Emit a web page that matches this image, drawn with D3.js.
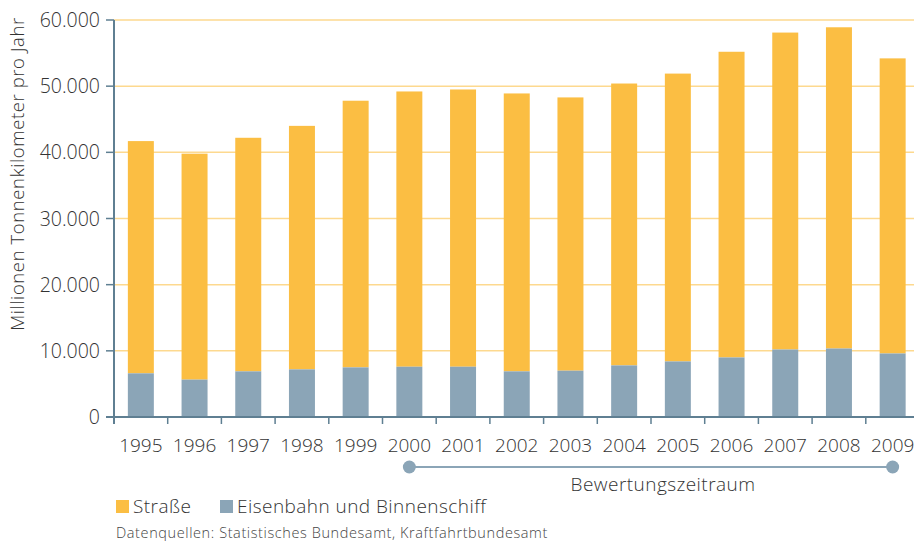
<!DOCTYPE html>
<html>
<head>
<meta charset="utf-8">
<script src="https://cdn.jsdelivr.net/npm/d3@7"></script>
<style>
  body { margin: 0; background: #fff; }
  svg { display: block; font-family: "Open Sans", "Liberation Sans", sans-serif; font-weight: 300; }
</style>
</head>
<body>
<div id="chart"></div>
<script>
// data (Mio. tkm)
const years = ["1995","1996","1997","1998","1999","2000","2001","2002","2003","2004","2005","2006","2007","2008","2009"];
const bahnSchiff = [6600, 5650, 6900, 7200, 7500, 7600, 7600, 6900, 7000, 7800, 8400, 9000, 10200, 10350, 9600];
const strasse = [35100, 34150, 35300, 36800, 40300, 41600, 41900, 42000, 41300, 42600, 43500, 46200, 47900, 48550, 44600];
const yTicks = [0, 10000, 20000, 30000, 40000, 50000, 60000];
const zeitraum = ["2000", "2009"];

const width = 914, height = 542;
const plotLeft = 114, plotTop = 20, plotBottom = 417;
const step = 53.7;

const colStrasse = "#fbbe43";
const colBahn = "#8ba5b7";
const colAxis = "#5f7f92";

const de = d3.formatLocale({ decimal: ",", thousands: ".", grouping: [3], currency: ["", " €"] });
const fmt = de.format(",");

const svg = d3.select("#chart").append("svg")
  .attr("width", width)
  .attr("height", height);

const x = d3.scaleBand()
  .domain(years)
  .range([plotLeft, plotLeft + step * years.length])
  .paddingInner(0.516)
  .paddingOuter(0.258);

const y = d3.scaleLinear().domain([0, 60000]).range([plotBottom, plotTop]);

// gridlines
svg.append("g")
  .selectAll("line")
  .data(yTicks.filter(d => d > 0))
  .enter().append("line")
  .attr("x1", plotLeft).attr("x2", width)
  .attr("y1", d => y(d)).attr("y2", d => y(d))
  .attr("stroke", "#fdd98f")
  .attr("stroke-width", 1.5);

// stacked bars
const stack = years.map((yr, i) => ({ year: yr, bahn: bahnSchiff[i], strasse: strasse[i] }));

svg.append("g").selectAll("rect")
  .data(stack)
  .enter().append("rect")
  .attr("x", d => x(d.year))
  .attr("width", x.bandwidth())
  .attr("y", d => y(d.bahn + d.strasse))
  .attr("height", d => y(d.bahn) - y(d.bahn + d.strasse))
  .attr("fill", colStrasse);

svg.append("g").selectAll("rect")
  .data(stack)
  .enter().append("rect")
  .attr("x", d => x(d.year))
  .attr("width", x.bandwidth())
  .attr("y", d => y(d.bahn))
  .attr("height", d => y(0) - y(d.bahn))
  .attr("fill", colBahn);

// y axis
const yAxis = svg.append("g").attr("transform", `translate(${plotLeft},0)`);
yAxis.append("line")
  .attr("x1", 0).attr("x2", 0)
  .attr("y1", plotTop).attr("y2", plotBottom + 7)
  .attr("stroke", colAxis).attr("stroke-width", 2);
yAxis.selectAll(".tick")
  .data(yTicks)
  .enter().append("line")
  .attr("x1", -8).attr("x2", 0)
  .attr("y1", d => y(d)).attr("y2", d => y(d))
  .attr("stroke", colAxis).attr("stroke-width", 1.5);
yAxis.selectAll("text")
  .data(yTicks)
  .enter().append("text")
  .attr("x", -14)
  .attr("y", d => y(d))
  .attr("dy", "0.36em")
  .attr("text-anchor", "end")
  .attr("font-size", 19.5)
  .attr("fill", "#333")
  .text(d => fmt(d));

svg.append("text")
  .attr("transform", "translate(24,174) rotate(-90)")
  .attr("text-anchor", "middle")
  .attr("font-size", 18.5)
  .attr("letter-spacing", 0.6)
  .attr("fill", "#333")
  .text("Millionen Tonnenkilometer pro Jahr");

// x axis
const xAxis = svg.append("g");
xAxis.append("line")
  .attr("x1", plotLeft - 8).attr("x2", width)
  .attr("y1", plotBottom).attr("y2", plotBottom)
  .attr("stroke", colAxis).attr("stroke-width", 2);
xAxis.selectAll(".tick")
  .data(years)
  .enter().append("line")
  .attr("x1", d => x(d) + x.bandwidth() / 2 + step / 2)
  .attr("x2", d => x(d) + x.bandwidth() / 2 + step / 2)
  .attr("y1", plotBottom).attr("y2", plotBottom + 7)
  .attr("stroke", colAxis).attr("stroke-width", 1.5);
xAxis.selectAll("text")
  .data(years)
  .enter().append("text")
  .attr("x", d => x(d) + x.bandwidth() / 2)
  .attr("y", 452)
  .attr("text-anchor", "middle")
  .attr("font-size", 19)
  .attr("fill", "#333")
  .text(d => d);

// Bewertungszeitraum
const zx = zeitraum.map(d => x(d) + x.bandwidth() / 2);
svg.append("line")
  .attr("x1", zx[0]).attr("x2", zx[1])
  .attr("y1", 467).attr("y2", 467)
  .attr("stroke", colBahn).attr("stroke-width", 2);
svg.selectAll(".dot")
  .data(zx)
  .enter().append("circle")
  .attr("cx", d => d).attr("cy", 467).attr("r", 6.5)
  .attr("fill", colBahn);
svg.append("text")
  .attr("x", (zx[0] + zx[1]) / 2 + 12)
  .attr("y", 491)
  .attr("text-anchor", "middle")
  .attr("font-size", 19)
  .attr("letter-spacing", 0.45)
  .attr("fill", "#333")
  .text("Bewertungszeitraum");

// legend
const legend = [
  { label: "Straße", color: colStrasse, x: 116 },
  { label: "Eisenbahn und Binnenschiff", color: colBahn, x: 220 }
];
const lg = svg.append("g").selectAll("g")
  .data(legend)
  .enter().append("g")
  .attr("transform", d => `translate(${d.x},500)`);
lg.append("rect").attr("width", 13).attr("height", 13).attr("fill", d => d.color);
lg.append("text")
  .attr("x", 17).attr("y", 13)
  .attr("font-size", 19)
  .attr("letter-spacing", 0.45)
  .attr("fill", "#333")
  .text(d => d.label);

svg.append("text")
  .attr("x", 116).attr("y", 538)
  .attr("font-size", 14.5)
  .attr("letter-spacing", 0.6)
  .attr("fill", "#444")
  .text("Datenquellen: Statistisches Bundesamt, Kraftfahrtbundesamt");
</script>
</body>
</html>
